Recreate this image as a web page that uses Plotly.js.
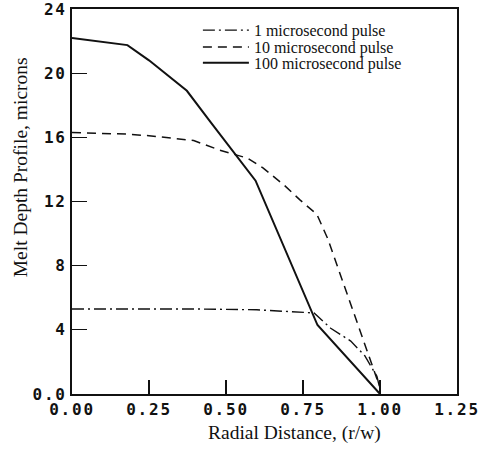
<!DOCTYPE html>
<html><head><meta charset="utf-8">
<script src="https://cdn.plot.ly/plotly-3.0.1.min.js"></script>
<style>body{margin:0;background:#fff}#c{width:484px;height:456px}
.xtick text,.ytick text{letter-spacing:1.8px}</style>
</head><body><div id="c"></div>
<script>
const x1 = [0.00, 0.20, 0.40, 0.60, 0.70, 0.786, 0.84, 0.905, 0.95, 0.99, 1.00];
const y1 = [5.3, 5.3, 5.3, 5.25, 5.15, 5.05, 4.1, 3.3, 2.4, 1.1, 0.3];
const x10 = [0.00, 0.18, 0.25, 0.395, 0.48, 0.57, 0.62, 0.69, 0.74, 0.795, 0.83, 1.00];
const y10 = [16.3, 16.2, 16.1, 15.8, 15.2, 14.7, 14.1, 13.0, 12.1, 11.2, 9.7, 0.4];
const x100 = [0.00, 0.18, 0.25, 0.373, 0.45, 0.53, 0.596, 0.797, 1.00];
const y100 = [22.2, 21.75, 20.8, 18.9, 16.95, 14.95, 13.3, 4.3, 0.0];
const names = ["1 microsecond pulse", "10 microsecond pulse", "100 microsecond pulse"];
const xTicks = [0, 0.25, 0.5, 0.75, 1.0, 1.25];
const xTickText = ["0.00", "0.25", "0.50", "0.75", "1.00", "1.25"];
const yTicks = [0, 4, 8, 12, 16, 20, 24];
const yTickText = ["0.0", "4", "8", "12", "16", "20", "24"];
const xTitle = "Radial Distance, (r/w)";
const yTitle = "Melt Depth Profile, microns";

const traces = [
  {x: x1, y: y1, name: names[0], mode: "lines", legend: "legend", line: {color: "#111", width: 1.4, dash: "12px,4px,2px,4px"}},
  {x: x10, y: y10, name: names[1], mode: "lines", legend: "legend2", line: {color: "#111", width: 1.5, dash: "9px,6px"}},
  {x: x100, y: y100, name: names[2], mode: "lines", legend: "legend3", line: {color: "#111", width: 2}}
];
const mono = {family: "DejaVu Sans Mono, monospace", size: 16, color: "#111", weight: "bold"};
const serifX = {family: "Liberation Serif, Times New Roman, serif", size: 19.5, color: "#111"};
const serifY = {family: "Liberation Serif, Times New Roman, serif", size: 19.5, color: "#111"};
const legFont = {family: "Liberation Serif, Times New Roman, serif", size: 16, color: "#111"};
function leg(y) {
  return {x: 0.327, y: y, xanchor: "left", yanchor: "middle", bgcolor: "rgba(0,0,0,0)",
    font: legFont, itemwidth: 46, borderwidth: 0};
}
const layout = {
  width: 484, height: 456,
  margin: {l: 72, r: 27, t: 9, b: 62},
  paper_bgcolor: "#fff", plot_bgcolor: "#fff",
  showlegend: true,
  legend: leg(0.945), legend2: leg(0.901), legend3: leg(0.860),
  xaxis: {range: [0, 1.25], tickvals: xTicks, ticktext: xTickText, ticks: "inside", ticklen: 14,
    tickwidth: 1.2, tickcolor: "#111", showline: true, linecolor: "#111", linewidth: 2, mirror: true,
    showgrid: false, zeroline: false, tickfont: mono, ticklabeloverflow: "allow"},
  yaxis: {range: [0, 24], tickvals: yTicks, ticktext: yTickText, ticks: "inside", ticklen: 15,
    tickwidth: 1.2, tickcolor: "#111", showline: true, linecolor: "#111", linewidth: 2, mirror: true,
    showgrid: false, zeroline: false, tickfont: mono, ticklabeloverflow: "allow"},
  annotations: [
    {text: xTitle, xref: "paper", yref: "paper", x: 0.577, y: -0.10, xanchor: "center", yanchor: "middle",
      showarrow: false, font: serifX},
    {text: yTitle, xref: "paper", yref: "paper", x: -0.134, y: 0.590, xanchor: "center", yanchor: "middle",
      textangle: -90, showarrow: false, font: serifY}
  ]
};
Plotly.newPlot("c", traces, layout, {displayModeBar: false, staticPlot: true});
</script></body></html>
